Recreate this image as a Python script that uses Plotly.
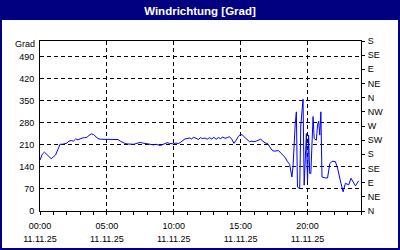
import plotly.graph_objects as go
import pandas as pd

# ---- data ----
times = [
    "00:00", "00:10", "00:20", "00:30", "00:40", "00:50",
    "01:00", "01:10", "01:20", "01:30", "01:40", "01:50",
    "02:00", "02:10", "02:20", "02:30", "02:40", "02:50",
    "03:00", "03:10", "03:20", "03:30", "03:40", "03:50",
    "04:00", "04:10", "04:20", "04:30", "04:40", "04:50",
    "05:00", "05:10", "05:20", "05:30", "05:40", "05:50",
    "06:00", "06:10", "06:20", "06:30", "06:40", "06:50",
    "07:00", "07:10", "07:20", "07:30", "07:40", "07:50",
    "08:00", "08:10", "08:20", "08:30", "08:40", "08:50",
    "09:00", "09:10", "09:20", "09:30", "09:40", "09:50",
    "10:00", "10:10", "10:20", "10:30", "10:40", "10:50",
    "11:00", "11:10", "11:20", "11:30", "11:40", "11:50",
    "12:00", "12:10", "12:20", "12:30", "12:40", "12:50",
    "13:00", "13:10", "13:20", "13:30", "13:40", "13:50",
    "14:00", "14:10", "14:20", "14:30", "14:40", "14:50",
    "15:00", "15:10", "15:20", "15:30", "15:40", "15:50",
    "16:00", "16:10", "16:20", "16:30", "16:40", "16:50",
    "17:00", "17:10", "17:20", "17:30", "17:40", "17:50",
    "18:00", "18:10", "18:20", "18:30", "18:40", "18:50", "18:55",
    "19:05", "19:10", "19:15", "19:25", "19:30", "19:40", "19:45", "19:50", "19:55",
    "20:00", "20:05", "20:10", "20:15", "20:25", "20:30", "20:40", "20:45", "20:50", "20:55",
    "21:00", "21:05", "21:20", "21:30", "21:40", "21:50",
    "22:05", "22:15", "22:30", "22:40", "22:50",
    "23:05", "23:15", "23:20", "23:35", "23:50",
]
direction = [
    162, 180, 187, 180, 170, 166,
    172, 178, 195, 212, 212, 213,
    215, 222, 224, 222, 229, 226,
    230, 232, 233, 234, 240, 245,
    243, 236, 230, 228, 228, 228,
    228, 228, 229, 228, 228, 227,
    222, 218, 215, 213, 212, 213,
    212, 214, 216, 218, 216, 215,
    214, 213, 212, 210, 212, 211,
    208, 211, 215, 217, 215, 214,
    213, 216, 214, 218, 224, 229,
    230, 232, 229, 234, 231, 227,
    233, 230, 232, 228, 233, 229,
    234, 228, 233, 230, 235, 231,
    233, 236, 228, 215, 225, 237,
    244, 240, 233, 225, 220, 222,
    220, 222, 226, 228, 222, 216,
    215, 205, 194, 190, 191, 192,
    184, 178, 170, 157, 148, 108, 140,
    277, 315, 76, 71, 273, 355, 82, 166, 246,
    92, 241, 119, 119, 300, 230, 225, 273, 285, 241,
    315, 108, 105, 105, 150, 158,
    157, 136, 88, 61, 88,
    83, 104, 99, 80, 96,
]
day = "2025-11-11"
hour_ticks = ["00:00", "05:00", "10:00", "15:00", "20:00"]
date_label = "11.11.25"
left_ticks = [0, 70, 140, 210, 280, 350, 420, 490]
compass_vals = [0, 45, 90, 135, 180, 225, 270, 315, 360, 405, 450, 495, 540]
compass_text = ["N", "NE", "E", "SE", "S", "SW", "W", "NW", "N", "NE", "E", "SE", "S"]

x = pd.to_datetime([f"{day} {t}" for t in times])
tickvals = [f"{day} {t}" for t in hour_ticks]
xrange_ = [f"{day} 00:00", "2025-11-12 00:00"]

NAVY = "#000080"
TXT = "#000000"
FONT = "Liberation Sans"

fig = go.Figure()
fig.add_trace(go.Scatter(x=x, y=direction, mode="lines",
                         line=dict(color="#0000ff", width=1), showlegend=False,
                         xaxis="x", yaxis="y"))
# same series attached to the secondary (date / compass) axes, drawn invisibly,
# so that those axes are rendered
fig.add_trace(go.Scatter(x=x, y=direction, mode="none", hoverinfo="skip",
                         showlegend=False, xaxis="x2", yaxis="y2"))

fig.update_layout(
    width=400, height=250,
    margin=dict(l=40, r=39, t=41, b=39, autoexpand=False),
    paper_bgcolor=NAVY, plot_bgcolor="white",
    font=dict(family=FONT, size=9, color=TXT),
    title=dict(text="<b>Windrichtung [Grad]</b>", x=0.5, xanchor="center",
               y=1 - 10.5 / 250, yanchor="middle", yref="container",
               font=dict(family=FONT, size=11.5, color="white")),
    showlegend=False,
    xaxis=dict(type="date", range=xrange_, tickvals=tickvals, ticktext=hour_ticks,
               showgrid=True, gridcolor="black", griddash="4px,3px", gridwidth=1,
               showline=True, linecolor="black", linewidth=1, mirror=True,
               ticks="outside", ticklen=3, tickcolor="black", tickwidth=1,
               minor=dict(dtick=3600000, ticks="outside", ticklen=3,
                          tickcolor="black", showgrid=False),
               tickfont=dict(size=9, color=TXT), ticklabelstandoff=3,
               zeroline=False, automargin=False),
    xaxis2=dict(type="date", range=xrange_, overlaying="x", anchor="y", side="bottom",
                tickvals=tickvals, ticktext=[date_label] * len(tickvals),
                showgrid=False, showline=False, ticks="", zeroline=False,
                tickfont=dict(size=9, color=TXT), ticklabelstandoff=21,
                automargin=False),
    yaxis=dict(range=[0, 540], tickvals=left_ticks,
               showgrid=True, gridcolor="black", griddash="4px,3px", gridwidth=1,
               showline=True, linecolor="black", linewidth=1, mirror=True,
               ticks="", zeroline=False, tickfont=dict(size=9, color=TXT),
               ticklabelstandoff=3, automargin=False),
    yaxis2=dict(range=[0, 540], overlaying="y", side="right", anchor="x",
                tickvals=compass_vals, ticktext=compass_text,
                showgrid=False, showline=False, zeroline=False,
                ticks="outside", ticklen=3, tickcolor="black",
                tickfont=dict(size=9, color=TXT), ticklabelstandoff=1,
                automargin=False),
)

# white chart body inside the navy frame
fig.add_shape(type="rect", xref="paper", yref="paper",
              x0=-38 / 321, x1=358 / 321, y0=(211 - 248) / 170, y1=(211 - 20) / 170,
              fillcolor="white", line=dict(width=0), layer="below")

fig.add_annotation(text="Grad", xref="paper", yref="y", x=0, y=529,
                   xanchor="right", yanchor="middle", xshift=-3, showarrow=False,
                   font=dict(family=FONT, size=9, color=TXT))

fig.write_html("out.html")
